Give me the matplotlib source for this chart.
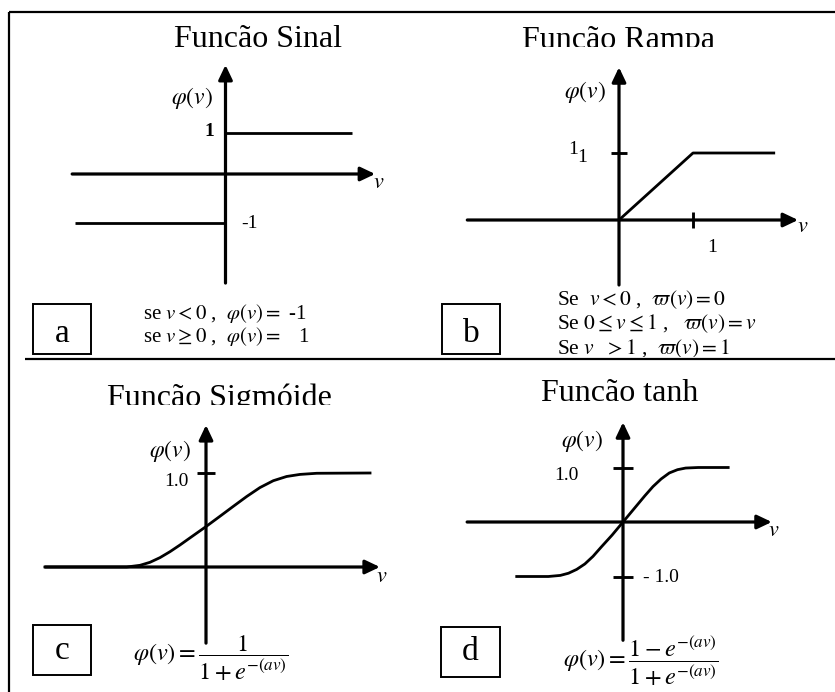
import matplotlib
matplotlib.use("Agg")
import matplotlib.pyplot as plt
from matplotlib.transforms import Bbox
from matplotlib.patches import Rectangle

plt.rcParams['font.family'] = ['Liberation Serif', 'DejaVu Serif']
plt.rcParams['mathtext.fontset'] = 'stix'

W, H = 835, 692

# ---------------- data (panel units) ----------------
# (a) sign function
sign_neg_v = [-3.67, 0.0]
sign_neg_phi = [-1.2, -1.2]
sign_pos_v = [0.0, 3.09]
sign_pos_phi = [1.0, 1.0]

# (b) ramp function
ramp_v = [0.0, 1.0, 2.11]
ramp_phi = [0.0, 1.0, 1.0]

# (c) sigmoid
sig_v = [-1.713, -0.844, -0.702, -0.596, -0.489, -0.383, -0.277, -0.170, 0.0,
         0.149, 0.29, 0.433, 0.574, 0.716, 0.858, 1.0, 1.178, 1.745]
sig_phi = [0.0, 0.0, 0.018, 0.050, 0.100, 0.163, 0.234, 0.310, 0.430,
           0.540, 0.645, 0.750, 0.845, 0.918, 0.963, 0.985, 0.997, 1.0]

# (d) tanh
tanh_v = [-1.95, -1.37, -1.15, -1.0, -0.85, -0.7, -0.55, -0.4, -0.2, 0.0,
          0.2, 0.4, 0.55, 0.7, 0.85, 1.0, 1.15, 1.38, 1.93]
tanh_phi = [-1.0, -1.0, -0.98, -0.94, -0.87, -0.77, -0.63, -0.46, -0.24, 0.0,
            0.24, 0.48, 0.65, 0.79, 0.90, 0.96, 0.99, 1.0, 1.0]

titles = ["Funcão Sinal", "Funcão Rampa", "Funcão Sigmóide", "Funcão tanh"]
box_letters = ["a", "b", "c", "d"]

fig = plt.figure(figsize=(W / 100, H / 100), dpi=100)

bg = fig.add_axes([0, 0, 1, 1])
bg.set_xlim(0, W)
bg.set_ylim(H, 0)
bg.axis('off')


def clip_text(t, clip_y):
    t.set_clip_box(Bbox.from_extents(0, H - clip_y, W, H))
    t.set_clip_on(True)


def panel_axes(ox, oy, ux, uy):
    ax = fig.add_axes([0, 0, 1, 1])
    ax.set_xlim(-ox / ux, (W - ox) / ux)
    ax.set_ylim((oy - H) / uy, oy / uy)
    ax.axis('off')
    ax.patch.set_alpha(0)
    return ax


AX_LW = 2.3
CURVE_LW = 2.0
ARROW = dict(arrowstyle='-|>,head_length=0.8,head_width=0.38', lw=AX_LW,
             color='black', shrinkA=0, shrinkB=0, mutation_scale=11)


def draw_axes(ax, x0, x1, y0, y1):
    ax.annotate('', xy=(x1, 0), xytext=(x0, 0), arrowprops=ARROW)
    ax.annotate('', xy=(0, y1), xytext=(0, y0), arrowprops=ARROW)


# ---------------- frame ----------------
bg.plot([9, 9], [12, H + 5], color='black', lw=1.6, solid_capstyle='butt')
bg.plot([9, W + 5], [12, 12], color='black', lw=1.6, solid_capstyle='butt')
bg.plot([25, W + 5], [359, 359], color='black', lw=1.6, solid_capstyle='butt')

# label boxes
for (x0, y0, x1, y1) in [(33, 304, 91, 354), (442, 304, 500, 354),
                         (33, 625, 91, 675), (441, 627, 500, 677)]:
    bg.add_patch(Rectangle((x0, y0), x1 - x0, y1 - y0, fill=False,
                           edgecolor='black', lw=1.4))

ta = bg.text(62, 334, box_letters[0], fontsize=24, ha='center', va='center')
clip_text(ta, 344)
tb = bg.text(471, 334, box_letters[1], fontsize=24, ha='center', va='center')
clip_text(tb, 346)
bg.text(62, 651, box_letters[2], fontsize=24, ha='center', va='center')
bg.text(470, 652, box_letters[3], fontsize=24, ha='center', va='center')

# titles
bg.text(258, 47, titles[0], fontsize=23, ha='center', va='baseline')
t = bg.text(618, 48, titles[1], fontsize=23, ha='center', va='baseline')
clip_text(t, 47)
t = bg.text(219, 406, titles[2], fontsize=23, ha='center', va='baseline')
clip_text(t, 405)
bg.text(620, 401, titles[3], fontsize=23, ha='center', va='baseline')

# ---------------- panel a ----------------
axa = panel_axes(225.5, 174, 41, 41)
draw_axes(axa, -3.74, 3.65, -2.66, 2.66)
axa.plot(sign_neg_v, sign_neg_phi, color='black', lw=CURVE_LW, solid_capstyle='butt')
axa.plot(sign_pos_v, sign_pos_phi, color='black', lw=CURVE_LW, solid_capstyle='butt')
bg.text(192, 98, r'$\varphi(v)$', fontsize=17, ha='center', va='center')
bg.text(209, 131, '1', fontsize=14, fontweight='bold', ha='center', va='center')
bg.text(250, 224, '-1', fontsize=14, ha='center', va='center')
bg.text(379, 184, r'$v$', fontsize=16, ha='center', va='center')
bg.text(143, 319, r'se $v < 0$ ,  $\varphi(v) =$ -1', fontsize=15, ha='left', va='baseline')
bg.text(143, 342, r'se $v \geq 0$ ,  $\varphi(v) =$   1', fontsize=15, ha='left', va='baseline')

# ---------------- panel b ----------------
axb = panel_axes(619, 220, 74, 67)
draw_axes(axb, -2.05, 2.42, -0.97, 2.28)
axb.plot(ramp_v, ramp_phi, color='black', lw=CURVE_LW, solid_capstyle='butt')
axb.plot([0], [1], marker='_', markersize=12, mew=AX_LW * 0.9, color='black')
axb.plot([1], [0], marker='|', markersize=12, mew=AX_LW * 0.9, color='black')
bg.text(585, 92, r'$\varphi(v)$', fontsize=17, ha='center', va='center')
bg.text(573, 150, '1', fontsize=14, ha='center', va='center')
bg.text(582, 157, '1', fontsize=14, ha='center', va='center')
bg.text(712, 247, '1', fontsize=14, ha='center', va='center')
bg.text(803, 227, r'$v$', fontsize=16, ha='center', va='center')
bg.text(557, 305, r'Se  $v < 0$ ,  $\varpi(v) = 0$', fontsize=15.5, ha='left', va='baseline')
bg.text(557, 329, r'Se $0 \leq v \leq 1$ ,   $\varpi(v) = v$', fontsize=15.5, ha='left', va='baseline')
t = bg.text(557, 354, r'Se $v$  $> 1$ ,  $\varpi(v) = 1$', fontsize=15.5, ha='left', va='baseline')
clip_text(t, 357)

# ---------------- panel c ----------------
axc = panel_axes(206, 567, 94, 94)
draw_axes(axc, -1.71, 1.85, -0.81, 1.51)
axc.plot(sig_v, sig_phi, color='black', lw=CURVE_LW, solid_joinstyle='round')
axc.plot([0], [1], marker='_', markersize=13, mew=AX_LW * 0.9, color='black')
bg.text(170, 451, r'$\varphi(v)$', fontsize=17, ha='center', va='center')
bg.text(176, 482, '1.0', fontsize=14, ha='center', va='center')
bg.text(382, 577, r'$v$', fontsize=16, ha='center', va='center')
bg.text(133, 658, r'$\varphi(v) = \dfrac{1}{1+e^{-(av)}}$', fontsize=17.5,
        ha='left', va='center')

# ---------------- panel d ----------------
axd = panel_axes(623, 522, 54.5, 54.5)
draw_axes(axd, -2.86, 2.73, -2.17, 1.83)
axd.plot(tanh_v, tanh_phi, color='black', lw=CURVE_LW, solid_joinstyle='round')
axd.plot([0, 0], [1, -1], marker='_', markersize=15, mew=AX_LW * 0.9,
         color='black', linestyle='none')
bg.text(582, 441, r'$\varphi(v)$', fontsize=17, ha='center', va='center')
bg.text(566, 476, '1.0', fontsize=14, ha='center', va='center')
bg.text(661, 577, '- 1.0', fontsize=14, ha='center', va='center')
bg.text(774, 531, r'$v$', fontsize=16, ha='center', va='center')
bg.text(563, 661, r'$\varphi(v) = \dfrac{1-e^{-(av)}}{1+e^{-(av)}}$', fontsize=17.5,
        ha='left', va='center')

fig.savefig('out.png', dpi=100)
